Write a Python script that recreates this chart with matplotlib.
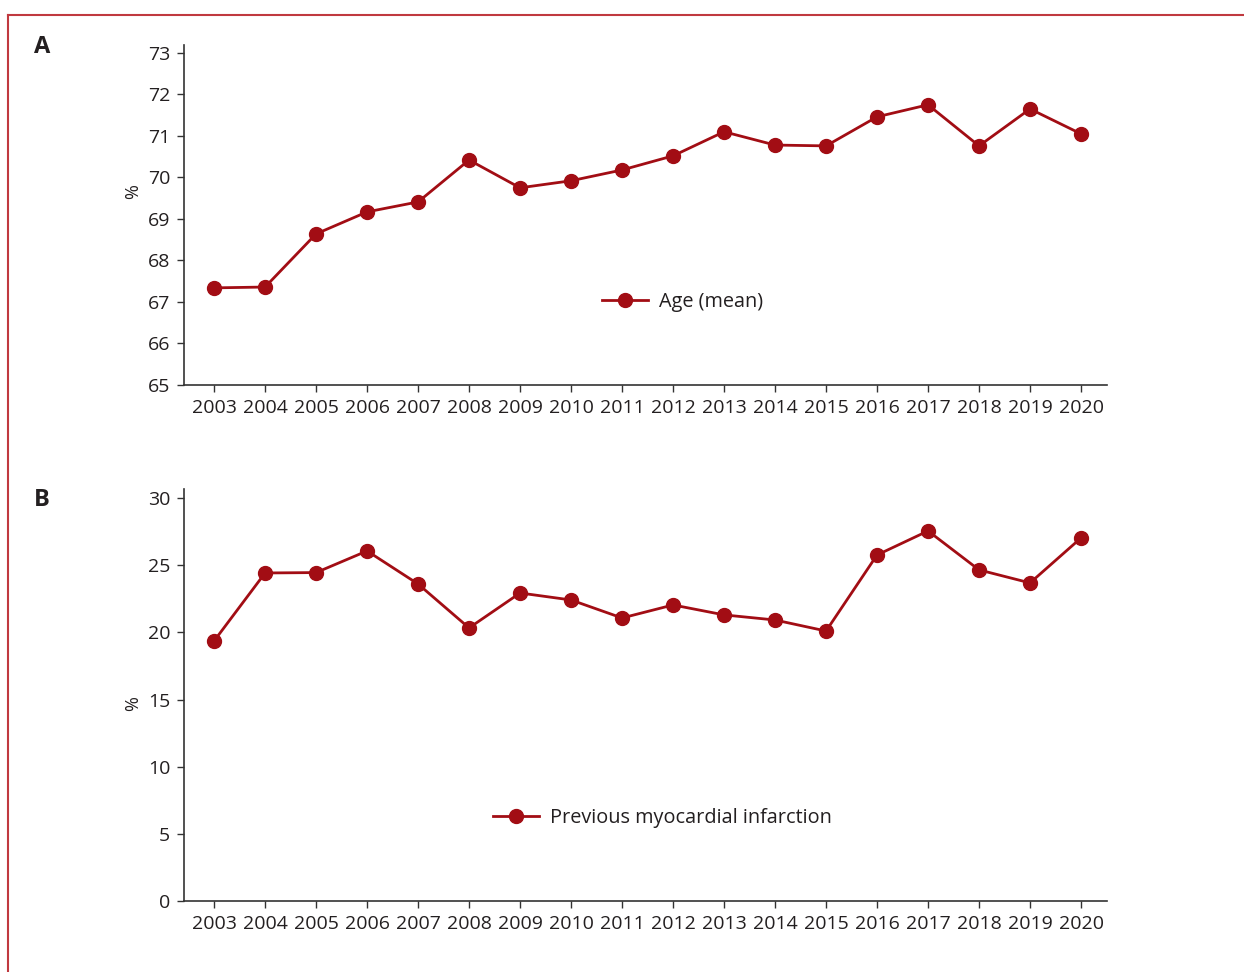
import numpy as np
import matplotlib
matplotlib.use("Agg")
import matplotlib.pyplot as plt
from matplotlib.lines import Line2D

plt.rcParams['font.family'] = ['Open Sans', 'DejaVu Sans']

years = list(range(2003, 2021))
age_mean = [67.34, 67.36, 68.64, 69.17, 69.41, 70.42, 69.75, 69.92, 70.18,
            70.52, 71.10, 70.78, 70.76, 71.46, 71.75, 70.76, 71.65, 71.05]
prev_mi = [19.36, 24.42, 24.45, 26.06, 23.60, 20.33, 22.93, 22.41, 21.07,
           22.04, 21.30, 20.92, 20.10, 25.76, 27.55, 24.65, 23.68, 27.03]

red = '#a20d14'
txt = '#231f20'

fig = plt.figure(figsize=(12.44, 9.72), dpi=100)

def style(ax, ylim, yticks):
	ax.set_xlim(2002.41, 2020.51)
	ax.set_ylim(*ylim)
	ax.set_xticks(years)
	ax.set_yticks(yticks)
	for s in ['top', 'right']:
		ax.spines[s].set_visible(False)
	for s in ['left', 'bottom']:
		ax.spines[s].set_color('#333333')
		ax.spines[s].set_linewidth(1.2)
	ax.tick_params(direction='out', length=5, width=1, colors='#333333',
	               labelcolor=txt, labelsize=14, pad=5)
	ax.set_ylabel('%', fontsize=13, color=txt)

axA = fig.add_axes([0.1479, 0.6039, 0.742, 0.3498])
axA.plot(years, age_mean, color=red, lw=2, marker='o', ms=10, label='Age (mean)')
style(axA, (65, 73.19), range(65, 74))
axA.yaxis.set_label_coords(-0.045, 0.57)
axA.legend(loc='center left', bbox_to_anchor=(0.4529, 0.244), frameon=False,
           borderaxespad=0, borderpad=0, handlelength=2.3, handletextpad=0.55,
           prop={'size': 14.3}, labelcolor=txt)

axB = fig.add_axes([0.1479, 0.0730, 0.742, 0.4239])
axB.plot(years, prev_mi, color=red, lw=2, marker='o', ms=10,
         label='Previous myocardial infarction')
style(axB, (0, 30.67), range(0, 31, 5))
axB.yaxis.set_label_coords(-0.045, 0.48)
axB.legend(loc='center left', bbox_to_anchor=(0.3348, 0.2015), frameon=False,
           borderaxespad=0, borderpad=0, handlelength=2.3, handletextpad=0.55,
           prop={'size': 14.3}, labelcolor=txt)

fig.text(42 / 1244, 1 - 47 / 972, 'A', fontsize=17, fontweight='bold', color=txt,
         ha='center', va='center')
fig.text(42 / 1244, 1 - 500 / 972, 'B', fontsize=17, fontweight='bold', color=txt,
         ha='center', va='center')

# red frame lines (top and left)
border = '#c0393f'
fig.add_artist(Line2D([8 / 1244, 1], [1 - 15 / 972, 1 - 15 / 972], color=border, lw=1.5))
fig.add_artist(Line2D([8 / 1244, 8 / 1244], [0, 1 - 15 / 972], color=border, lw=1.5))

fig.savefig('out.png', dpi=100)
